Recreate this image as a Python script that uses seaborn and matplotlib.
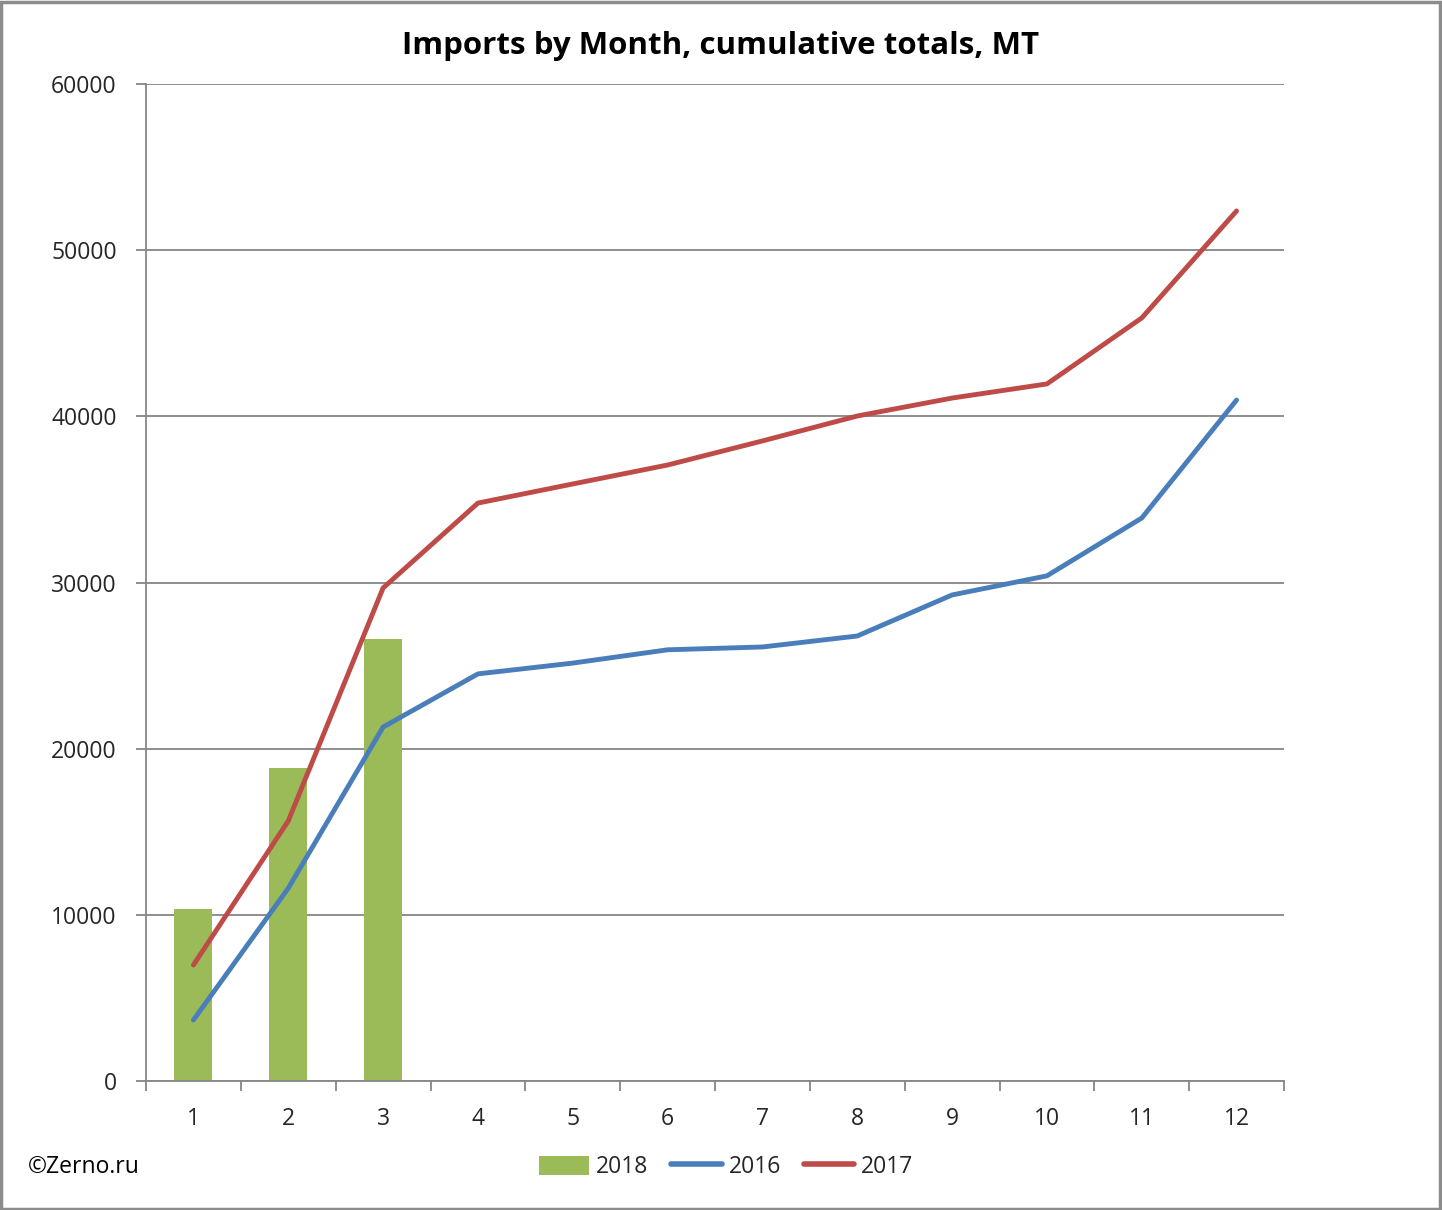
import matplotlib
matplotlib.use("Agg")
import matplotlib.pyplot as plt
import seaborn as sns
import numpy as np
from matplotlib.patches import Rectangle
from matplotlib.lines import Line2D
from matplotlib.ticker import MultipleLocator, FixedLocator

months = [1, 2, 3, 4, 5, 6, 7, 8, 9, 10, 11, 12]
months_2018 = [1, 2, 3]
imports_2018 = [10350, 18840, 26600]
imports_2016 = [3670, 11600, 21300, 24500, 25150, 25950, 26120, 26780, 29250, 30400, 33880, 40980]
imports_2017 = [6980, 15650, 29670, 34780, 35930, 37070, 38520, 40020, 41100, 41950, 45920, 52360]
title = "Imports by Month, cumulative totals, MT"

sns.set_theme(style="white")
plt.rcParams['font.family'] = ['Open Sans', 'DejaVu Sans']

GREEN = "#9BBB59"
BLUE = "#4A7EBB"
RED = "#BE4B48"
GRID = "#868686"
FS = 16.5

fig = plt.figure(figsize=(14.42, 12.10), dpi=100)
ax = fig.add_axes([146/1442, 1 - 1081/1210, (1284-146)/1442, (1081-84)/1210])

sns.barplot(x=months_2018, y=imports_2018, native_scale=True, width=0.4,
            color=GREEN, saturation=1, ax=ax, edgecolor="none")
sns.lineplot(x=months, y=imports_2016, color=BLUE, linewidth=3.5, ax=ax,
             solid_capstyle="round")
sns.lineplot(x=months, y=imports_2017, color=RED, linewidth=3.5, ax=ax,
             solid_capstyle="round")

ax.set_xlim(0.5, 12.5)
ax.set_ylim(0, 60000)
ax.set_yticks(range(0, 60001, 10000))
ax.set_yticklabels([str(v) for v in range(0, 60001, 10000)])
ax.set_xticks(months)
ax.set_xticklabels([str(m) for m in months])
ax.xaxis.set_minor_locator(FixedLocator([m + 0.5 for m in range(0, 13)]))
ax.tick_params(axis="x", which="major", length=0, pad=19, labelsize=FS)
ax.tick_params(axis="x", which="minor", length=7, width=1.3, color=GRID, direction="out", bottom=True)
ax.tick_params(axis="y", which="major", length=7, width=1.3, color=GRID, direction="out", left=True, pad=14, labelsize=FS)
ax.yaxis.grid(True, color=GRID, linewidth=1.3)
ax.xaxis.grid(False)
ax.set_axisbelow(True)
for s in ["top", "right"]:
    ax.spines[s].set_visible(False)
for s in ["left", "bottom"]:
    ax.spines[s].set_color(GRID)
    ax.spines[s].set_linewidth(1.3)
ax.set_xlabel("")
ax.set_ylabel("")

fig.text(0.5, 1 - 46/1210, title, ha="center", va="center", fontsize=22.5, fontweight="bold", color="black")

handles = [
    Rectangle((0, 0), 1, 1, facecolor=GREEN, edgecolor="none"),
    Line2D([0], [0], color=BLUE, linewidth=4, solid_capstyle="round"),
    Line2D([0], [0], color=RED, linewidth=4, solid_capstyle="round"),
]
fig.legend(handles, ["2018", "2016", "2017"], loc="center", bbox_to_anchor=(726/1442, 1 - 1167/1210),
           ncol=3, frameon=False, fontsize=FS, handlelength=2.2, handleheight=0.9,
           columnspacing=1.0, handletextpad=0.3)

fig.text(28/1442, 1 - 1167/1210, "©Zerno.ru", ha="left", va="center", fontsize=FS, color="black")

fig.patches.append(Rectangle((0.0005, 0.0005), 0.998, 0.998, transform=fig.transFigure,
                             fill=False, edgecolor="#8C8C8C", linewidth=2.5))

fig.savefig("out.png", dpi=100, facecolor="white")
